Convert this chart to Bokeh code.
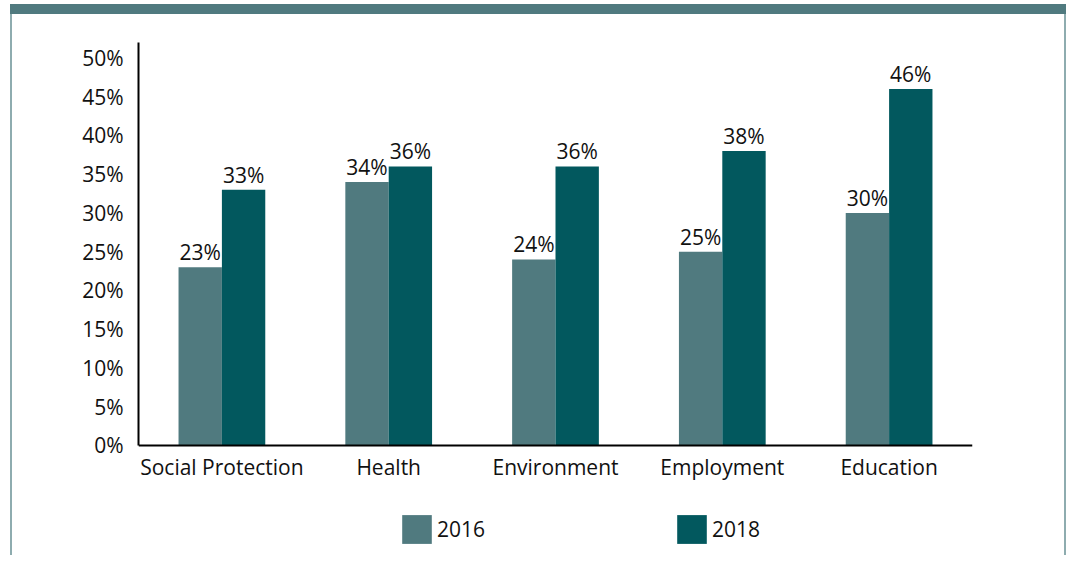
from bokeh.plotting import figure
from bokeh.models import ColumnDataSource, FixedTicker, PrintfTickFormatter, Legend, LegendItem, FactorRange
from bokeh.transform import dodge
from bokeh.core.properties import value
from bokeh.embed import file_html
from bokeh.resources import INLINE

categories = ["Social Protection", "Health", "Environment", "Employment", "Education"]
vals_2016 = [23, 34, 24, 25, 30]
vals_2018 = [33, 36, 36, 38, 46]
series_names = ["2016", "2018"]
y_ticks = [0, 5, 10, 15, 20, 25, 30, 35, 40, 45, 50]

c2016 = "#507A7F"
c2018 = "#02585E"
cframe = "#8EACAF"
FONT = "Open Sans"
FS = "21px"

src = ColumnDataSource(dict(
    cat=categories,
    v16=vals_2016,
    v18=vals_2018,
    l16=[f"{v}%" for v in vals_2016],
    l18=[f"{v}%" for v in vals_2018],
))

p = figure(x_range=FactorRange(*categories, range_padding=0), y_range=(-13.55, 52),
           width=1066, height=555, output_backend="svg", toolbar_location=None,
           min_border_left=138, min_border_right=94, min_border_top=42, min_border_bottom=5)
p.x_range.factor_padding = 0
p.background_fill_color = None
p.border_fill_color = None
p.styles = {"background": (
    f"linear-gradient({c2016},{c2016}) 10px 4px / calc(100% - 10px) 10px no-repeat, "
    f"linear-gradient({cframe},{cframe}) 10px 4px / 2px 100% no-repeat, "
    f"linear-gradient({cframe},{cframe}) right 0px top 4px / 2px 100% no-repeat, white")}

r16 = p.vbar(x=dodge("cat", -0.13, range=p.x_range), top="v16", width=0.26, source=src,
             fill_color=c2016, line_color=None)
r18 = p.vbar(x=dodge("cat", 0.13, range=p.x_range), top="v18", width=0.26, source=src,
             fill_color=c2018, line_color=None)

p.text(x=dodge("cat", -0.13, range=p.x_range), y="v16", text="l16", source=src,
       text_align="center", text_baseline="bottom", y_offset=-1,
       text_font=value(FONT), text_font_size=FS, text_color="#111111")
p.text(x=dodge("cat", 0.13, range=p.x_range), y="v18", text="l18", source=src,
       text_align="center", text_baseline="bottom", y_offset=-1,
       text_font=value(FONT), text_font_size=FS, text_color="#111111")

p.grid.visible = False
p.outline_line_color = None
for ax in (p.xaxis[0], p.yaxis[0]):
    ax.axis_line_color = "black"
    ax.axis_line_width = 2
    ax.major_tick_line_color = None
    ax.minor_tick_line_color = None
    ax.major_label_text_font = FONT
    ax.major_label_text_font_size = FS
    ax.major_label_text_color = "#111111"
p.xaxis.fixed_location = 0
p.xaxis.major_label_standoff = 2
p.yaxis.major_label_standoff = 9
p.yaxis.bounds = (0, 52)
p.yaxis.ticker = FixedTicker(ticks=y_ticks)
p.yaxis.formatter = PrintfTickFormatter(format="%d%%")

legend = Legend(items=[LegendItem(label=series_names[0], renderers=[r16]),
                       LegendItem(label=series_names[1], renderers=[r18])],
                orientation="horizontal", location=(260, 3),
                glyph_width=37, glyph_height=36, label_standoff=2, spacing=188,
                padding=0, margin=0, border_line_color=None, background_fill_alpha=0,
                label_text_font=FONT, label_text_font_size=FS, label_text_color="#111111")
p.add_layout(legend, "center")

open("out.html", "w").write(file_html(p, INLINE))
